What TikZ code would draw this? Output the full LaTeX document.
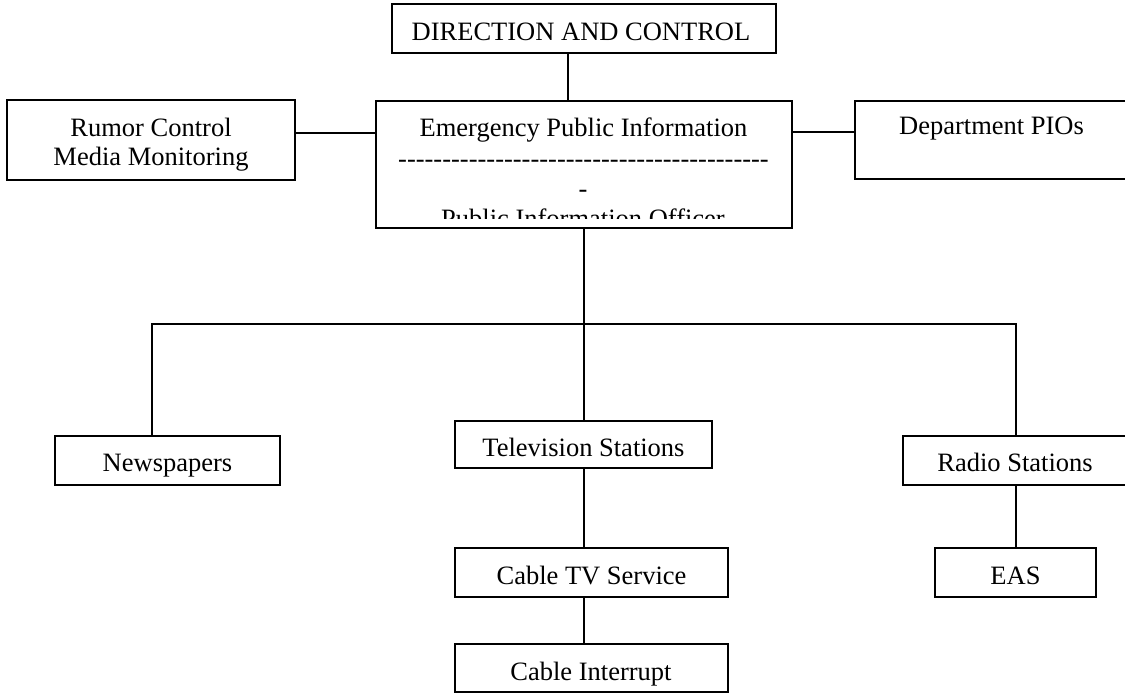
\documentclass[tikz,border=0pt]{standalone}
\usepackage{fontspec}
\setmainfont{Liberation Serif}
\newcommand\hy{\hbox{-}}
\newcommand\hyten{\hy\hy\hy\hy\hy\hy\hy\hy\hy\hy}
\tikzset{
  box/.style 2 args={draw, line width=1.9pt, inner sep=0pt, outer sep=0pt, anchor=north west, minimum width=#1, minimum height=#2},
  txt/.style={anchor=base, inner sep=0pt, outer sep=0pt},
  conn/.style={draw, line width=1.9pt}
}
\begin{document}
\begin{tikzpicture}[x=1pt, y=-1pt, font=\fontsize{26.5}{30}\selectfont]
\useasboundingbox (0,0) rectangle (1125,693);
\clip (0,0) rectangle (1125,693);
% boxes
\node[box={384pt}{49pt}] (dc) at (392,4) {};
\node[box={288pt}{80pt}] (rumor) at (7,100) {};
\node[box={416pt}{127pt}] (emg) at (376,101) {};
\node[box={273pt}{78pt}] (dept) at (855,101) {};
\node[box={225pt}{49pt}] (news) at (55,436) {};
\node[box={257pt}{47pt}] (tv) at (455,421) {};
\node[box={224pt}{49pt}] (radio) at (903,436) {};
\node[box={273pt}{49pt}] (ctv) at (455,548) {};
\node[box={273pt}{48pt}] (cint) at (455,644) {};
\node[box={161pt}{49pt}] (eas) at (935,548) {};
% texts
\node[txt] (tdc) at (581,41) {DIRECTION AND CONTROL};
\node[txt] (tr1) at (151,136.5) {Rumor Control};
\node[txt] (tr2) at (151,165.5) {Media Monitoring};
\node[txt] (tdept) at (991.5,134) {Department PIOs};
\node[txt] (tnews) at (167.5,471.5) {Newspapers};
\node[txt] (ttv) at (583.5,456.5) {Television Stations};
\node[txt] (tradio) at (1015,471.5) {Radio Stations};
\node[txt] (tctv) at (591.5,584) {Cable TV Service};
\node[txt] (tcint) at (591,680) {Cable Interrupt};
\node[txt] (teas) at (1015.5,584) {EAS};
\begin{scope}
\clip (376,101) rectangle (792,218);
\node[txt] (te1) at (583.5,136) {Emergency Public Information};
\node[txt] (te2) at (583.5,167) {\hyten\hyten\hyten\hyten\hy\hy};
\node[txt] (te3) at (583,197) {-};
\node[txt] (te4) at (583,227.5) {Public Information Officer};
\end{scope}
% connectors
\coordinate (cdc) at (568,0);
\coordinate (yl) at (0,133);
\coordinate (yr) at (0,132);
\coordinate (bus) at (584,324);
\coordinate (busL) at (152,324);
\coordinate (busR) at (1016,324);
\draw[conn] (dc.south -| cdc) -- (emg.north -| cdc);
\draw[conn] (rumor.east |- yl) -- (emg.west |- yl);
\draw[conn] (emg.east |- yr) -- (dept.west |- yr);
\draw[conn] (emg.south -| bus) -- (bus);
\draw[conn] (news.north -| busL) -- (busL) -- (busR) -- (radio.north -| busR);
\draw[conn] (bus) -- (tv.north -| bus);
\draw[conn] (tv.south -| bus) -- (ctv.north -| bus);
\draw[conn] (ctv.south -| bus) -- (cint.north -| bus);
\draw[conn] (radio.south -| busR) -- (eas.north -| busR);
\end{tikzpicture}
\end{document}
